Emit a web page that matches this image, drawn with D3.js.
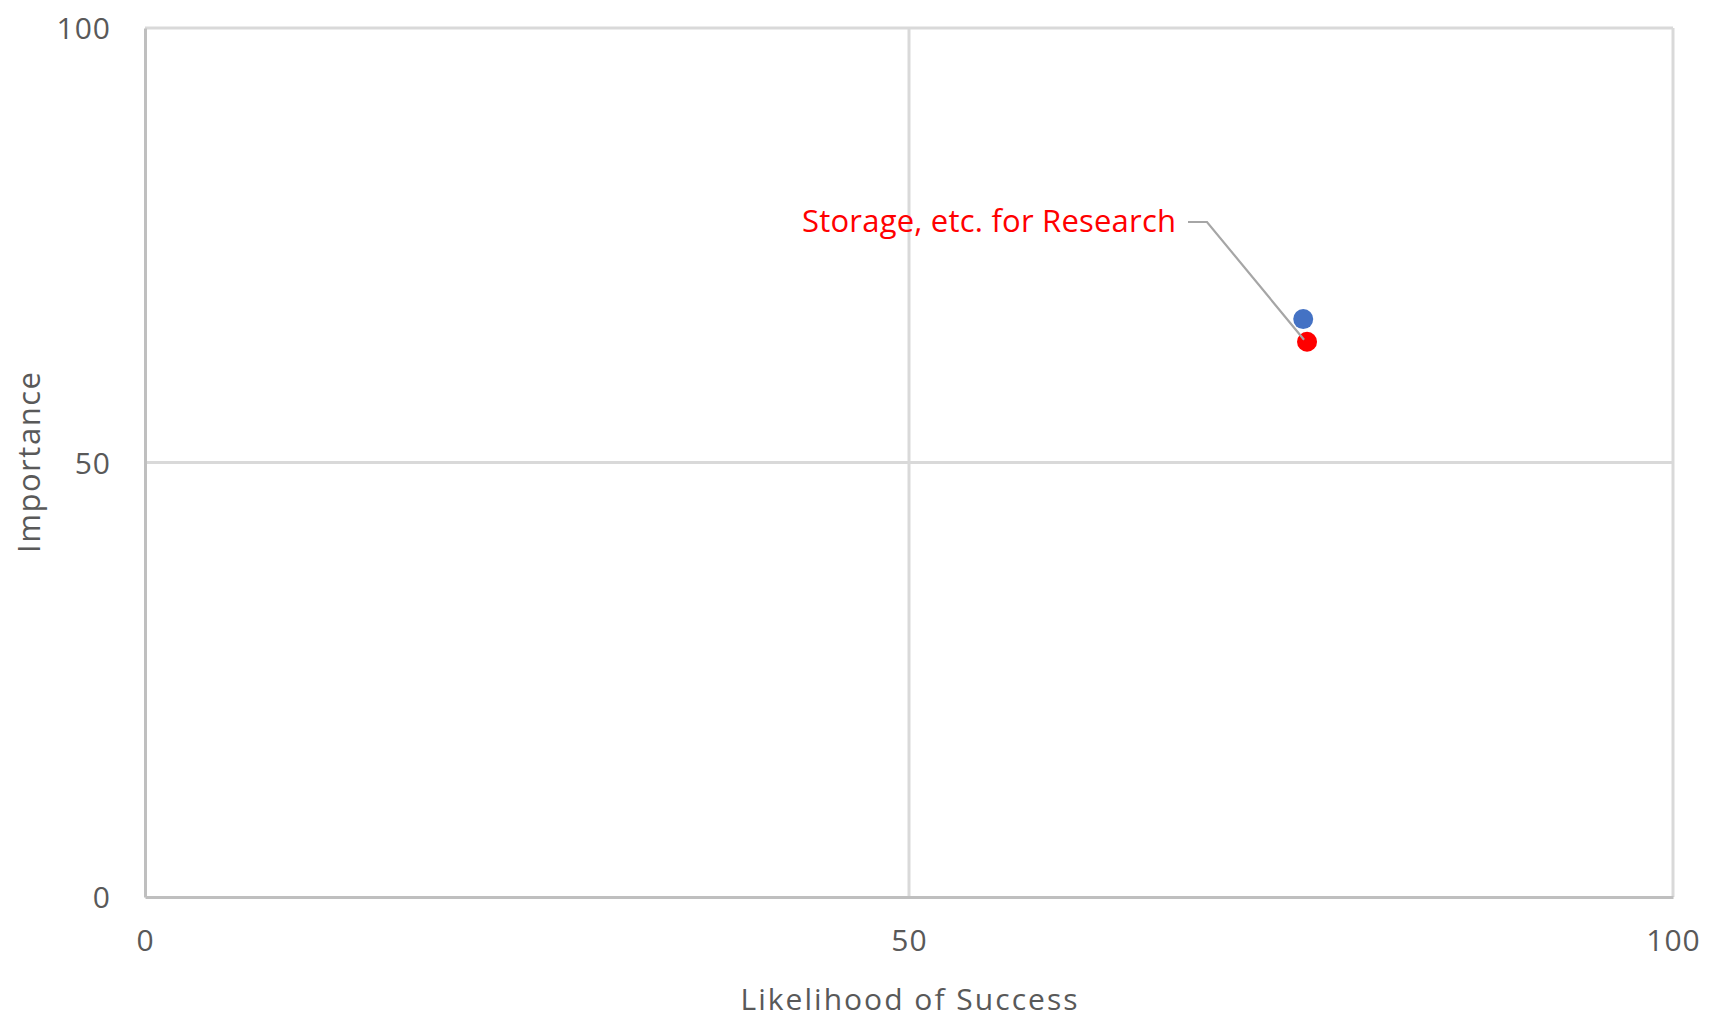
<!DOCTYPE html>
<html>
<head>
<meta charset="utf-8">
<script src="https://cdn.jsdelivr.net/npm/d3@7"></script>
<style>
  html, body { margin: 0; padding: 0; background: #fff; }
  svg { display: block; }
  text { font-family: "Open Sans", sans-serif; }
</style>
</head>
<body>
<svg id="chart" width="1718" height="1019"></svg>
<script>
// ---- data ----
const seriesNames = ["Series A", "Storage, etc. for Research"];
const seriesColors = ["#4472c4", "#ff0000"];
const likelihood = [75.8, 76.05];  // x values
const importance = [66.5, 63.9];   // y values
const xTicks = [0, 50, 100];
const yTicks = [0, 50, 100];
const xTitle = "Likelihood of Success";
const yTitle = "Importance";
const labelText = "Storage, etc. for Research";

// ---- layout ----
const W = 1718, H = 1019;
const m = { left: 145, top: 28, right: 45, bottom: 122 };
const svg = d3.select("#chart");

const x = d3.scaleLinear().domain([0, 100]).range([m.left, W - m.right]);
const y = d3.scaleLinear().domain([0, 100]).range([H - m.bottom, m.top]);

const tickColor = "#595959";

// gridlines
const g = svg.append("g");
g.selectAll("line.vx").data(xTicks.filter(d => d !== 0)).join("line")
  .attr("x1", d => x(d)).attr("x2", d => x(d))
  .attr("y1", y(0)).attr("y2", y(100))
  .attr("stroke", "#d9d9d9").attr("stroke-width", 3);
g.selectAll("line.hy").data(yTicks.filter(d => d !== 0)).join("line")
  .attr("x1", x(0)).attr("x2", x(100))
  .attr("y1", d => y(d)).attr("y2", d => y(d))
  .attr("stroke", "#d9d9d9").attr("stroke-width", 3);

// axes (no tick marks, labels only)
const xAxis = d3.axisBottom(x).tickValues(xTicks).tickSize(0).tickPadding(0);
const yAxis = d3.axisLeft(y).tickValues(yTicks).tickSize(0).tickPadding(0);

const gx = svg.append("g").attr("transform", `translate(0,${y(0)})`).call(xAxis);
gx.select(".domain").attr("stroke", "#bfbfbf").attr("stroke-width", 3);
gx.selectAll("text").attr("fill", tickColor).style("font-size", "30px")
  .attr("y", 43).attr("dy", "0.35em").style("font-family", "Open Sans")
  .style("letter-spacing", "1px");

const gy = svg.append("g").attr("transform", `translate(${x(0)},0)`).call(yAxis);
gy.select(".domain").attr("stroke", "#bfbfbf").attr("stroke-width", 3);
gy.selectAll("text").attr("fill", tickColor).style("font-size", "30px")
  .attr("x", -34).attr("dy", "0.35em").style("font-family", "Open Sans")
  .style("letter-spacing", "1px");

// axis titles
svg.append("text").attr("x", (x(0) + x(100)) / 2).attr("y", 1010)
  .attr("text-anchor", "middle").attr("fill", tickColor)
  .style("font-size", "30px")
  .attr("textLength", 337).attr("lengthAdjust", "spacing")
  .text(xTitle);
svg.append("text")
  .attr("transform", `translate(40,${(y(0) + y(100)) / 2}) rotate(-90)`)
  .attr("text-anchor", "middle").attr("fill", tickColor)
  .style("font-size", "31px")
  .attr("textLength", 181).attr("lengthAdjust", "spacing")
  .text(yTitle);

// points
const pts = likelihood.map((v, i) => ({ x: v, y: importance[i], c: seriesColors[i], n: seriesNames[i] }));
svg.selectAll("circle.pt").data(pts).join("circle")
  .attr("class", "pt")
  .attr("cx", d => x(d.x)).attr("cy", d => y(d.y)).attr("r", 10)
  .attr("fill", d => d.c);

// data label with leader line (for the red series)
const target = pts[1];
const lx = 1176, ly = 232;
svg.append("path")
  .attr("d", `M${lx + 12},${ly - 10} L${lx + 31},${ly - 10} L${x(target.x) - 3},${y(target.y) - 2}`)
  .attr("fill", "none").attr("stroke", "#a6a6a6").attr("stroke-width", 2.2);
svg.append("text").attr("x", lx).attr("y", ly)
  .attr("text-anchor", "end").attr("fill", "#ff0000")
  .style("font-size", "31px")
  .attr("textLength", 374).attr("lengthAdjust", "spacing")
  .text(labelText);
</script>
</body>
</html>
